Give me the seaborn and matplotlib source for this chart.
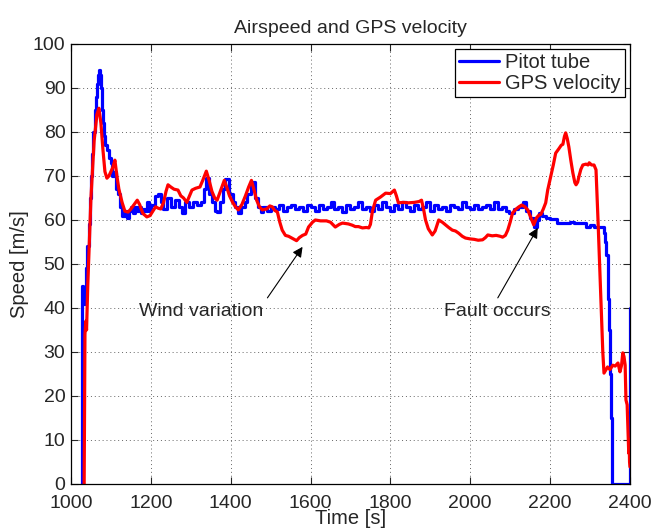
import matplotlib
matplotlib.use("Agg")
import matplotlib.pyplot as plt
import seaborn as sns

# Pitot tube airspeed
pitot_t = [1027, 1028, 1031, 1033, 1035, 1038, 1041, 1044, 1047, 1050, 1053, 1056, 1059,
           1062, 1065, 1068, 1070, 1072, 1075, 1078, 1080, 1083, 1086, 1090,
           1095, 1100, 1103, 1108, 1112, 1118, 1122, 1128, 1135, 1140, 1145, 1150, 1155,
           1160, 1165, 1170, 1175, 1180, 1185, 1190, 1195, 1200, 1210, 1218, 1225, 1230,
           1240, 1250, 1260, 1270, 1278, 1285, 1295, 1305, 1315, 1325, 1333, 1339, 1345,
           1352, 1360, 1366, 1372, 1380, 1387, 1395, 1405, 1412, 1419, 1427, 1435, 1442,
           1452, 1460, 1468, 1475, 1482, 1490,
           1500, 1510, 1520, 1530, 1540, 1550, 1560, 1570, 1580, 1590, 1600, 1610, 1620,
           1630, 1640, 1650, 1660, 1670, 1680, 1690, 1700, 1710, 1720, 1730, 1740, 1750,
           1760, 1770, 1780, 1790, 1800, 1810, 1820, 1830, 1840, 1850, 1860, 1870, 1880,
           1890, 1900, 1910, 1920, 1930, 1940, 1950, 1960, 1970, 1980, 1990, 2000, 2010,
           2020, 2030, 2040, 2050, 2060, 2070, 2080, 2090,
           2096, 2110, 2120, 2131, 2140, 2150, 2159, 2166, 2172, 2180, 2190, 2200, 2210,
           2217, 2230, 2240, 2250, 2260, 2270, 2282, 2290, 2300, 2310, 2320, 2327, 2335,
           2338, 2341, 2344, 2346, 2348, 2350, 2352, 2354, 2355, 2399, 2400]
pitot_v = [0, 45, 44, 41, 44, 49, 54, 59, 65, 70, 75, 80, 85,
           88, 91, 93, 94, 93, 90, 85, 82, 79, 77, 76,
           74, 73, 70, 71, 67, 66, 63, 61, 62, 60.5, 62, 63, 61.5,
           63, 62, 63, 61.5, 62.5, 62, 64, 62, 63.5, 65.5, 66, 64, 62.5,
           65, 63, 64.5, 63, 61.5, 64, 63, 64, 63.5, 64, 67, 69.5, 66,
           64, 62, 61.8, 64, 67, 69.3, 66, 64, 63, 61.5, 63, 64, 66,
           68.6, 65, 63, 61.8, 63, 62,
           63, 62.5, 63.5, 62, 63, 63.5, 62.5, 63, 62, 63.5, 63, 62, 63.5,
           62.5, 63, 64, 62.5, 63, 61.8, 63.5, 62.5, 63, 64, 62.5, 63, 62,
           63.5, 62.5, 64, 63, 62, 63.5, 62.5, 64, 63, 62, 63.5, 62.5, 63,
           64, 62, 63.5, 62.5, 63, 62, 63.5, 63, 62.5, 64, 63, 62.5, 63.5,
           62.5, 63, 63.5, 62.5, 64, 62.5, 63, 62,
           61.6, 62.5, 63, 64, 62, 60.5, 58.4, 60, 61.6, 61, 60.5, 60.2, 60.2,
           59.3, 59.3, 59.3, 59.5, 59.3, 59.3, 59.3, 58.4, 58.8, 58.4, 58.4, 58.4, 57,
           55, 52, 48, 42, 35, 25, 15, 5, 0, 0, 40]

# GPS velocity
gps_t = [1033, 1035, 1037, 1039, 1042, 1050, 1058, 1065, 1070, 1075, 1080, 1085, 1090,
         1095, 1100, 1105, 1110, 1115, 1120, 1128, 1135, 1143, 1150, 1158, 1166, 1172,
         1180, 1190, 1198, 1205, 1212, 1218, 1225, 1232, 1238, 1243, 1250, 1258, 1268,
         1275, 1282, 1290, 1297, 1303, 1312, 1323, 1330, 1339, 1346, 1353, 1360, 1366,
         1372, 1378, 1384, 1390, 1397, 1405, 1412, 1419, 1428, 1437, 1445, 1452, 1458,
         1465, 1472, 1479, 1490, 1498, 1504, 1510, 1517, 1523, 1529, 1537, 1545, 1555,
         1565, 1572, 1580, 1588, 1595, 1605, 1612, 1625, 1640, 1650, 1662, 1672, 1680,
         1695, 1705, 1712, 1720, 1730, 1740, 1746, 1750, 1755, 1763, 1775, 1788, 1800,
         1810, 1815, 1820, 1832, 1845, 1860, 1872, 1878, 1883, 1888, 1895, 1905, 1912,
         1921, 1930, 1938, 1946, 1955, 1963, 1971, 1980, 1988, 2000, 2010, 2020, 2031,
         2038, 2044, 2055, 2065, 2075, 2081, 2088, 2094, 2100, 2106, 2115, 2122, 2129,
         2137, 2144, 2152, 2159, 2166, 2172, 2177, 2183, 2189, 2194, 2202, 2208, 2214,
         2222, 2228, 2232, 2236, 2239, 2243, 2247, 2252, 2257, 2262, 2265, 2269, 2272,
         2277, 2282, 2290, 2295, 2298, 2304, 2310, 2315, 2320, 2326, 2332, 2335, 2340,
         2344, 2350, 2357, 2363, 2370, 2375, 2379, 2382, 2385, 2388, 2390, 2393, 2397,
         2398, 2399, 2400]
gps_v = [0, 34, 37, 35, 45, 65, 78, 84, 85.4, 82, 76, 71, 69.5,
         70, 71, 72, 73.6, 70, 67, 64, 62, 61.8, 62.5, 63.5, 64.5, 63.5,
         61.5, 60.7, 61, 62, 63, 62.7, 62.5, 64, 66.5, 68, 67.5, 67, 66.8,
         65.5, 65, 64, 65.5, 66.8, 67.2, 67.5, 69, 71.1, 69, 66.5, 65, 64.5,
         66, 67.5, 69, 67.5, 65.5, 64, 63, 62.3, 63.5, 65.5, 67.5, 69, 67,
         64.5, 63, 62.3, 62.5, 63.2, 63, 62.2, 61.8, 59.5, 57.7, 56.5, 56.3, 55.8,
         55.3, 56, 56.5, 56.8, 58.4, 59.5, 60, 59.8, 59.8, 59.5, 58.4, 59, 59.3,
         59.1, 58.8, 58.5, 58.5, 58.2, 58.3, 58.2, 59, 62, 64.5, 65.2, 66.1, 66,
         66.8, 65.5, 63.9, 64, 63.9, 64, 64.2, 64.5, 62.5, 60, 58, 56.6, 57.5,
         60, 59.5, 58.9, 58.3, 57.7, 57.5, 57, 56.3, 55.9, 55.7, 55.6, 55.4, 55.5,
         56, 56.6, 56.4, 56.5, 56.3, 56.1, 56.5, 57.7, 59.5, 61.6, 62.5, 63, 63.4,
         63, 62.3, 60.5, 58.9, 60.5, 61.1, 61.3, 62.5, 63.9, 66.8, 70, 72.5, 75.2,
         76.2, 77, 77.2, 79, 79.8, 78.5, 76.6, 73.5, 70.7, 68.5, 68, 68.6, 69.8,
         71.5, 72.5, 72.7, 72.5, 73, 72.5, 72.5, 71.4, 60, 45, 30, 25.2, 26,
         26.6, 26, 27, 26.8, 27.5, 25.5, 27, 29.8, 29, 27, 19.1, 18, 7,
         10, 5, 3.9]

sns.set_style("ticks")
plt.rcParams['font.family'] = ['Liberation Sans', 'DejaVu Sans']

fig = plt.figure(figsize=(6.53, 5.30), dpi=100)
ax = fig.add_axes([0.1087, 0.0868, 0.856, 0.8302])

sns.lineplot(x=pitot_t, y=pitot_v, estimator=None, sort=False, color='#0000ff',
             lw=2.3, drawstyle='steps-post', label='Pitot tube', ax=ax)
sns.lineplot(x=gps_t, y=gps_v, estimator=None, sort=False, color='#ff0000',
             lw=2.3, label='GPS velocity', ax=ax)

ax.set_xlim(1000, 2400)
ax.set_ylim(0, 100)
ax.set_xticks(range(1000, 2401, 200))
ax.set_yticks(range(0, 101, 10))
ax.tick_params(direction='in', top=True, right=True, labelsize=14, length=5, width=0.8)
ax.tick_params(axis='x', pad=8)
ax.tick_params(axis='y', pad=4)
for s in ax.spines.values():
    s.set_linewidth(0.9)
    s.set_color('k')
ax.grid(True, linestyle=(0, (1, 3)), color='#666666', linewidth=0.7)

ax.set_title('Airspeed and GPS velocity', fontsize=14, pad=8)
ax.set_xlabel('Time [s]', fontsize=14.5, labelpad=-2)
ax.set_ylabel('Speed [m/s]', fontsize=14.5, labelpad=3)

# annotations: text labels and arrows
ax.text(1326, 39.3, 'Wind variation', ha='center', va='center', fontsize=14)
ax.text(2069, 39.3, 'Fault occurs', ha='center', va='center', fontsize=14)
arrow = dict(arrowstyle='-|>', color='k', lw=0.8, mutation_scale=15, shrinkA=0, shrinkB=0)
ax.annotate('', xy=(1580, 53.9), xytext=(1492, 42.3), arrowprops=arrow)
ax.annotate('', xy=(2169, 58.2), xytext=(2069, 42.3), arrowprops=arrow)

leg = ax.legend(loc='upper right', fontsize=14.5, fancybox=False, framealpha=1,
                edgecolor='k', handlelength=2.0, borderaxespad=0.25,
                borderpad=0.2, labelspacing=0.1, handletextpad=0.3)
leg.get_frame().set_linewidth(0.9)

fig.savefig('out.png', dpi=100)
